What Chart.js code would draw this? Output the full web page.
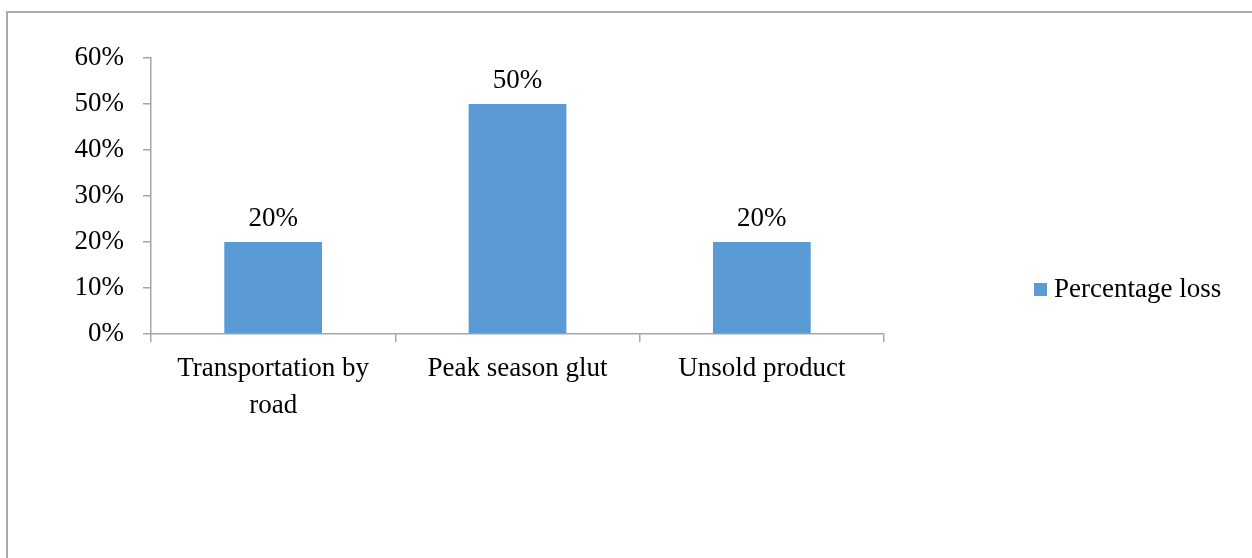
<!DOCTYPE html>
<html>
<head>
<meta charset="utf-8">
<title>Percentage loss</title>
<script src="https://cdn.jsdelivr.net/npm/chart.js@4.4.1/dist/chart.umd.min.js"></script>
<style>
    html, body {
        margin: 0;
        padding: 0;
        background: #ffffff;
        overflow: hidden;
    }
    #frame {
        position: absolute;
        left: 6px;
        top: 11px;
        width: 1400px;
        height: 700px;
        border-left: 2px solid #ababab;
        border-top: 2px solid #ababab;
    }
    #graph {
        position: absolute;
        left: 0;
        top: 0;
    }
</style>
</head>
<body>
<div id="frame"></div>
<canvas id="graph" width="1252" height="558"></canvas>
<script>
const categories = [['Transportation by', 'road'], 'Peak season glut', 'Unsold product'];
const lossValues = [20, 50, 20];
const seriesName = 'Percentage loss';
const yTicks = [0, 10, 20, 30, 40, 50, 60];

const FONT = '"Liberation Serif", "Times New Roman", serif';
const FONT_SIZE = 27;
const BAR_COLOR = '#5b9bd5';
const AXIS_COLOR = '#a6a6a6';

// value labels above each bar
const valueLabels = {
    id: 'valueLabels',
    afterDatasetsDraw(chart) {
        const ctx = chart.ctx;
        const meta = chart.getDatasetMeta(0);
        ctx.save();
        ctx.font = `${FONT_SIZE}px ${FONT}`;
        ctx.fillStyle = '#000';
        ctx.textAlign = 'center';
        ctx.textBaseline = 'alphabetic';
        meta.data.forEach((bar, i) => {
            ctx.fillText(chart.data.datasets[0].data[i] + '%', bar.x, bar.y - 16);
        });
        ctx.restore();
    }
};

// legend block on the right, lower than the plot centre
const sideLegend = {
    id: 'sideLegend',
    afterDraw(chart) {
        const ctx = chart.ctx;
        const ds = chart.data.datasets[0];
        ctx.save();
        ctx.fillStyle = ds.backgroundColor;
        ctx.fillRect(1034, 283, 13, 13);
        ctx.font = `${FONT_SIZE}px ${FONT}`;
        ctx.fillStyle = '#000';
        ctx.textAlign = 'left';
        ctx.textBaseline = 'middle';
        ctx.fillText(ds.label, 1054, 290);
        ctx.restore();
    }
};

const ctx = document.getElementById('graph').getContext('2d');

new Chart(ctx, {
    type: 'bar',
    data: {
        labels: categories,
        datasets: [{
            label: seriesName,
            data: lossValues,
            backgroundColor: BAR_COLOR,
            borderWidth: 0,
            barPercentage: 0.4,
            categoryPercentage: 1.0
        }]
    },
    options: {
        responsive: false,
        animation: false,
        layout: {
            padding: { left: 0, top: 58, right: 368, bottom: 124 }
        },
        scales: {
            x: {
                offset: true,
                grid: {
                    offset: true,
                    drawOnChartArea: false,
                    drawTicks: true,
                    tickLength: 8,
                    color: AXIS_COLOR,
                    lineWidth: 1.5
                },
                border: { display: true, color: AXIS_COLOR, width: 1.5 },
                ticks: {
                    color: '#000',
                    font: { family: FONT, size: FONT_SIZE, lineHeight: 1.37 },
                    padding: 8,
                    maxRotation: 0,
                    autoSkip: false
                },
                afterFit(scale) {
                    scale.height = 100;
                }
            },
            y: {
                min: yTicks[0],
                max: yTicks[yTicks.length - 1],
                afterBuildTicks(scale) {
                    scale.ticks = yTicks.map(v => ({ value: v }));
                },
                grid: {
                    drawOnChartArea: false,
                    drawTicks: true,
                    tickLength: 8,
                    color: AXIS_COLOR,
                    lineWidth: 1.5
                },
                border: { display: true, color: AXIS_COLOR, width: 1.5 },
                ticks: {
                    color: '#000',
                    font: { family: FONT, size: FONT_SIZE },
                    padding: 19,
                    callback: v => v + '%'
                },
                afterFit(scale) {
                    scale.width = 151;
                }
            }
        },
        plugins: {
            legend: { display: false },
            tooltip: { enabled: false }
        }
    },
    plugins: [valueLabels, sideLegend]
});
</script>
</body>
</html>
